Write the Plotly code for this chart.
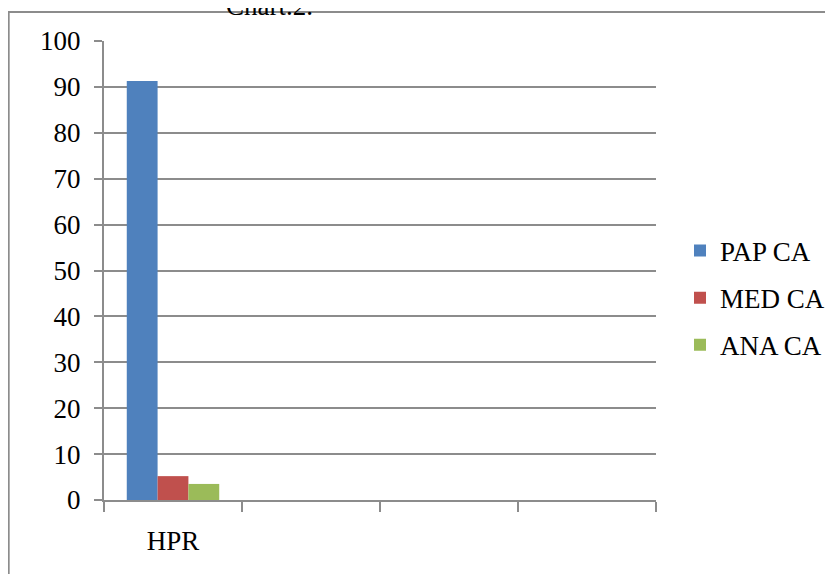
import plotly.graph_objects as go

categories = ["HPR", " ", "  ", "   "]
series_names = ["PAP CA", "MED CA", "ANA CA"]
pap_ca = [91.3, None, None, None]
med_ca = [5.2, None, None, None]
ana_ca = [3.5, None, None, None]
colors = ["#4F81BD", "#C0504D", "#9BBB59"]
y_ticks = list(range(0, 101, 10))

FONT = "Liberation Serif"
FS = 27
GRID = "#8C8C8C"

L, T, R, B = 96, 33, 184, 82
PW, PH = 833 - L - R, 574 - T - B

fig = go.Figure()
for i, (name, vals) in enumerate(zip(series_names, [pap_ca, med_ca, ana_ca])):
    fig.add_trace(go.Bar(x=categories, y=vals, name=name, marker_color=colors[i],
                         marker_line_width=0, legendgroup=name))

fig.update_layout(
    width=833, height=574,
    margin=dict(l=L, r=R, t=T, b=B),
    paper_bgcolor="white", plot_bgcolor="white",
    font=dict(family=FONT, size=FS, color="black"),
    barmode="group", bargap=0.33, bargroupgap=0,
    showlegend=True,
    legend=dict(x=(672 - L) / PW, y=(T + PH - 290) / PH, xanchor="left", yanchor="middle",
                font=dict(family=FONT, size=FS, color="black"),
                traceorder="grouped", tracegroupgap=9,
                bgcolor="rgba(0,0,0,0)"),
    xaxis=dict(type="category", categoryorder="array", categoryarray=categories,
               range=[-0.5, 3.5], tickson="boundaries", ticks="outside", ticklen=10,
               tickwidth=2, tickcolor=GRID, showline=True, linecolor=GRID, linewidth=2,
               showgrid=False, ticklabelstandoff=16,
               tickfont=dict(family=FONT, size=FS, color="black")),
    yaxis=dict(range=[0, 100], tickvals=y_ticks, ticks="outside", ticklen=8,
               tickwidth=2, tickcolor=GRID, showline=True, linecolor=GRID, linewidth=2,
               showgrid=True, gridcolor=GRID, gridwidth=2, zeroline=False,
               ticklabelstandoff=8,
               tickfont=dict(family=FONT, size=FS, color="black")),
)

# outer chart border (partly outside the page)
fig.add_shape(type="rect", xref="paper", yref="paper",
              x0=(0.5 - L) / PW, x1=1.5, y0=-0.5, y1=(T + PH - 4) / PH,
              line=dict(color="#8C8C8C", width=2), fillcolor="rgba(0,0,0,0)", layer="below")

fig.add_annotation(text="Chart.2.", xref="paper", yref="paper",
                   x=(262 - L) / PW, y=(T + PH - 15) / PH, xanchor="center", yanchor="bottom",
                   showarrow=False, font=dict(family=FONT, size=FS, color="black"))

fig.write_html("out.html")
